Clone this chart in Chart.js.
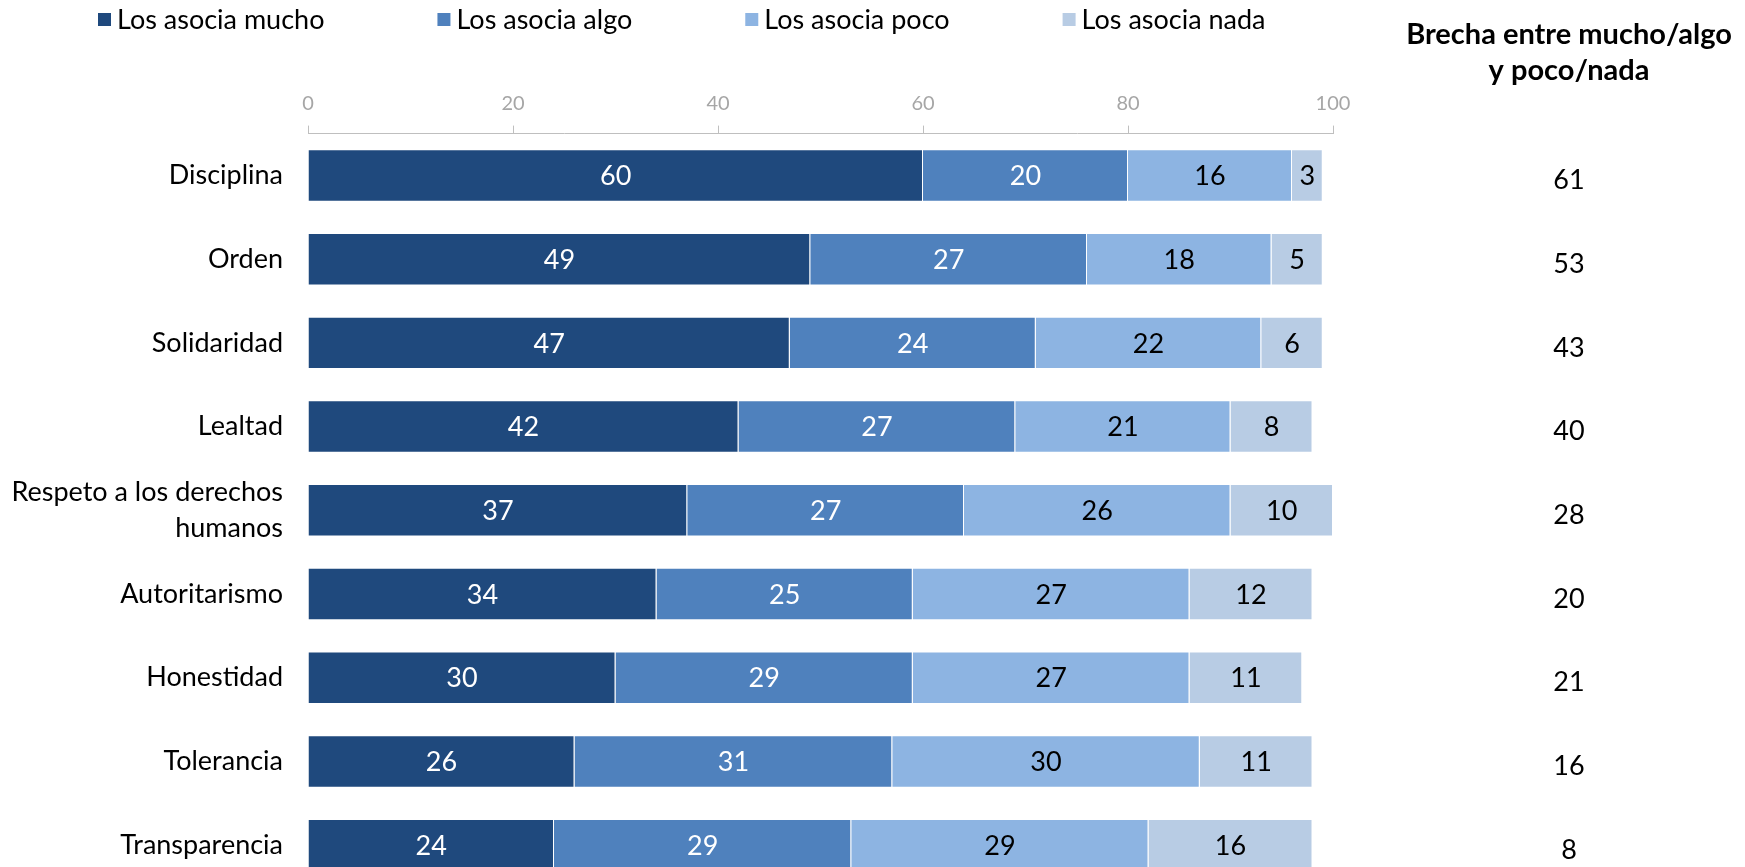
<!DOCTYPE html>
<html>
<head>
<meta charset="utf-8">
<script src="https://cdn.jsdelivr.net/npm/chart.js@4.4.1/dist/chart.umd.min.js"></script>
<style>
    html, body { margin: 0; padding: 0; background: #fff; overflow: hidden; }
    canvas { display: block; }
</style>
</head>
<body>
<canvas id="chart" width="1745" height="887"></canvas>
<script>
const categories = ['Disciplina', 'Orden', 'Solidaridad', 'Lealtad', ['Respeto a los derechos', 'humanos'],
    'Autoritarismo', 'Honestidad', 'Tolerancia', 'Transparencia'];
const mucho = [60, 49, 47, 42, 37, 34, 30, 26, 24];
const algo = [20, 27, 24, 27, 27, 25, 29, 31, 29];
const poco = [16, 18, 22, 21, 26, 27, 27, 30, 29];
const nada = [3, 5, 6, 8, 10, 12, 11, 11, 16];
const brecha = [61, 53, 43, 40, 28, 20, 21, 16, 8];
const xTicks = [0, 20, 40, 60, 80, 100];
const seriesNames = ['Los asocia mucho', 'Los asocia algo', 'Los asocia poco', 'Los asocia nada'];
const seriesColors = ['#1F497D', '#4F81BD', '#8DB4E2', '#B8CCE4'];
const labelColors = ['#fff', '#fff', '#000', '#000'];
const brechaTitle = ['Brecha entre mucho/algo', 'y poco/nada'];

const FONT = 'Lato, "Open Sans", sans-serif';

// value inside each segment
const segmentLabels = {
    id: 'segmentLabels',
    afterDatasetsDraw(chart) {
        const ctx = chart.ctx;
        ctx.save();
        ctx.font = `27px ${FONT}`;
        ctx.textAlign = 'center';
        ctx.textBaseline = 'middle';
        chart.data.datasets.forEach((ds, i) => {
            const meta = chart.getDatasetMeta(i);
            ctx.fillStyle = labelColors[i];
            meta.data.forEach((bar, j) => {
                ctx.fillText(ds.data[j], (bar.x + bar.base) / 2, bar.y + 1);
            });
        });
        ctx.restore();
    }
};

// legend row at the top
const topLegend = {
    id: 'topLegend',
    afterDraw(chart) {
        const ctx = chart.ctx;
        ctx.save();
        ctx.font = `27px ${FONT}`;
        ctx.textBaseline = 'middle';
        ctx.textAlign = 'left';
        let x = 98;
        const y = 20;
        chart.data.datasets.forEach(ds => {
            ctx.fillStyle = ds.backgroundColor;
            ctx.fillRect(x, y - 7, 13, 13);
            ctx.fillStyle = '#000';
            ctx.fillText(ds.label, x + 19, y);
            x += 19 + ctx.measureText(ds.label).width + 113;
        });
        ctx.restore();
    }
};

// gap column on the right
const brechaColumn = {
    id: 'brechaColumn',
    afterDraw(chart) {
        const ctx = chart.ctx;
        const yScale = chart.scales.y;
        const cx = 1569;
        ctx.save();
        ctx.textAlign = 'center';
        ctx.textBaseline = 'middle';
        ctx.fillStyle = '#000';
        ctx.font = `bold 29px ${FONT}`;
        ctx.fillText(brechaTitle[0], cx, 35);
        ctx.fillText(brechaTitle[1], cx, 71);
        ctx.font = `27px ${FONT}`;
        brecha.forEach((v, i) => {
            ctx.fillText(v, cx, yScale.getPixelForValue(i) + 5);
        });
        ctx.restore();
    }
};

const series = [mucho, algo, poco, nada];

new Chart(document.getElementById('chart'), {
    type: 'bar',
    data: {
        labels: categories,
        datasets: series.map((d, i) => ({
            label: seriesNames[i],
            data: d,
            backgroundColor: seriesColors[i],
            borderColor: 'rgba(255,255,255,0.55)',
            borderWidth: 1,
            barPercentage: 0.627,
            categoryPercentage: 1
        }))
    },
    options: {
        indexAxis: 'y',
        animation: false,
        responsive: false,
        layout: { padding: { top: 93, right: 412, left: 0, bottom: 0 } },
        plugins: {
            legend: { display: false },
            tooltip: { enabled: false }
        },
        scales: {
            x: {
                position: 'top',
                stacked: true,
                min: 0,
                max: 100,
                afterBuildTicks: s => { s.ticks = xTicks.map(v => ({ value: v })); },
                afterFit: s => { s.height = 40.6; s.paddingLeft = 0; s.paddingRight = 0; },
                ticks: { color: '#A6A6A6', font: { family: FONT, size: 20 }, padding: 10 },
                grid: { drawOnChartArea: false, tickLength: 8, color: '#BFBFBF' },
                border: { display: true, color: '#BFBFBF' }
            },
            y: {
                stacked: true,
                afterFit: s => { s.width = 308; s.paddingTop = 0; s.paddingBottom = 0; },
                grid: { display: false, drawTicks: false },
                border: { display: false },
                ticks: { color: '#000', font: { family: FONT, size: 27, lineHeight: 1.3 }, padding: 25 }
            }
        }
    },
    plugins: [segmentLabels, topLegend, brechaColumn]
});
</script>
</body>
</html>
